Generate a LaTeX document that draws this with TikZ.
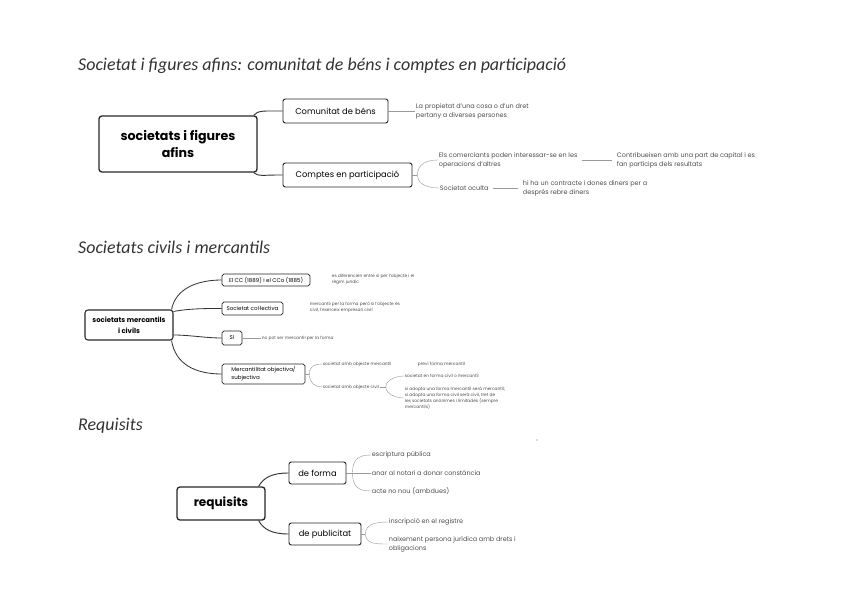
\documentclass[tikz,border=0pt]{standalone}
\usepackage{fontspec}
\setmainfont{Poppins}
\newfontfamily\titolfont{Carlito}
\usetikzlibrary{calc,positioning}
\newcommand{\px}{0.3mm}
\tikzset{
  titol/.style={anchor=base west, inner sep=0pt, text=black!80, font=\titolfont\itshape\fontsize{15.3}{18}\selectfont},
  arrel/.style={draw=black!85, line width=1.1pt, rounded corners=2.5pt, align=center, inner sep=0pt, font=\bfseries\fontsize{10.8}{14.5}\selectfont},
  branca/.style={draw=black!85, line width=0.8pt, rounded corners=2pt, inner sep=0pt, font=\fontsize{7.1}{9}\selectfont},
  petita/.style={line width=0.6pt, rounded corners=1.5pt, align=left, font=\fontsize{4.7}{7}\selectfont},
  nota/.style={anchor=west, inner sep=0.6pt, align=left, text=black!70, font=\fontsize{5.5}{7.7}\selectfont},
  minuscula/.style={font=\fontsize{3.7}{5.2}\selectfont},
  enllac/.style={draw=black!80, line width=0.8pt},
  guia/.style={draw=black!40, line width=0.35pt},
}

\begin{document}
\begin{tikzpicture}[x=\px, y=\px]
\useasboundingbox (0,0) rectangle (848,-599);

%====================================================
% SOCIETATS I FIGURES AFINS
%====================================================
\node[titol] (titol1) at (78,-71) {Societat i figures afins: comunitat de béns i comptes en participació};
\node[arrel, minimum width=158*\px, minimum height=56*\px] (afins) at (178,-144) {societats i figures\\afins};
\node[branca, minimum width=105*\px, minimum height=24*\px] (comunitat) at (335.5,-111) {Comunitat de béns};
\node[branca, minimum width=129*\px, minimum height=24*\px] (comptes) at (347.5,-175) {Comptes en participació};
\draw[enllac] ($(afins.north east)+(-4,0)$) .. controls +(4,5) and +(-12,0) .. ($(comunitat.west)+(-6,0)$) -- (comunitat.west);
\draw[enllac] ($(afins.south east)+(-4,0)$) .. controls +(4,-4) and +(-12,0) .. ($(comptes.west)+(-6,0)$) -- (comptes.west);

\node[nota] (propietat) at (415,-111) {La propietat d'una cosa o d'un dret\\pertany a diverses persones};
\draw[guia] (comunitat.east) -- (propietat.west);

\node[nota] (comerciants) at (438,-160) {Els comerciants poden interessar-se en les\\operacions d'altres};
\node[nota] (oculta) at (439,-188) {Societat oculta};
\node[nota] (contribueixen) at (616,-160) {Contribueixen amb una part de capital i es\\fan partícips dels resultats};
\node[nota] (contracte) at (522,-188) {hi ha un contracte i dones diners per a\\després rebre diners};
\draw[guia] (comptes.east) -- ++(5,0) coordinate (comptes-b);
\draw[guia] (comptes-b) .. controls +(0,12) and +(-10,0) .. (comerciants.west);
\draw[guia] (comptes-b) .. controls +(0,-10) and +(-10,0) .. (oculta.west);
\draw[guia] ($(comerciants.east)+(4,0)$) -- ($(contribueixen.west)+(-4,0)$);
\draw[guia] ($(oculta.east)+(4,0)$) -- ($(contracte.west)+(-4,0)$);

%====================================================
% SOCIETATS CIVILS I MERCANTILS
%====================================================
\node[titol] (titol2) at (78,-253) {Societats civils i mercantils};
\node[arrel, line width=0.9pt, font=\bfseries\fontsize{5.9}{9.5}\selectfont, minimum width=88*\px, minimum height=30*\px] (mercantils) at (129,-325) {societats mercantils\\i civils};
\node[branca, petita, minimum width=88*\px, minimum height=12*\px] (codis) at (266,-280) {El CC (1889) i el CCo (1885)};
\node[branca, petita, minimum width=61*\px, minimum height=13*\px] (collectiva) at (252.5,-308.5) {Societat col·lectiva};
\node[branca, petita, minimum width=20*\px, minimum height=14*\px] (si) at (232,-338) {SI};
\node[branca, petita, minimum width=83*\px, minimum height=20*\px] (mercantilitat) at (263.5,-374) {Mercantilitat objectiva/\\subjectiva};
\draw[enllac, line width=0.7pt] ($(mercantils.north east)+(-2,0)$) .. controls +(4,20) and +(-26,0) .. (codis.west);
\draw[enllac, line width=0.7pt] ($(mercantils.north east)+(0,-2)$) .. controls +(16,3) and +(-16,0) .. (collectiva.west);
\draw[enllac, line width=0.7pt] ($(mercantils.east)+(0,-10)$) .. controls +(16,0) and +(-16,0) .. (si.west);
\draw[enllac, line width=0.7pt] ($(mercantils.south east)+(-2,0)$) .. controls +(4,-24) and +(-26,0) .. (mercantilitat.west);

\node[nota, minuscula] (regim) at (331,-279) {es diferencien entre si per l'objecte i el\\règim jurídic};
\node[nota, minuscula] (formanota) at (309,-307) {mercantil per la forma però si l'objecte és\\civil, l'exerceix empresari civil};
\node[nota, minuscula] (noforma) at (261,-338) {no pot ser mercantil per la forma};
\draw[guia] (si.east) -- (noforma.west);

\node[nota, minuscula] (objmerc) at (322,-364) {societat amb objecte mercantil};
\node[nota, minuscula] (previ) at (417,-364) {previ forma mercantil};
\node[nota, minuscula] (objcivil) at (322,-387) {societat amb objecte civil};
\node[nota, minuscula] (formaciv) at (404,-376) {societat en forma civil o mercantil};
\node[nota, minuscula] (adopta) at (404,-398) {si adopta una forma mercantil serà mercantil;\\si adopta una forma civil serà civil, tret de\\les societats anònimes i limitades (sempre\\mercantils)};
\draw[guia] (mercantilitat.east) -- ++(4,0) coordinate (merc-b);
\draw[guia] (merc-b) .. controls +(0,8) and +(-7,0) .. (objmerc.west);
\draw[guia] (merc-b) .. controls +(0,-9) and +(-7,0) .. (objcivil.west);
\draw[guia] (objcivil.east) -- ++(6,0) coordinate (civ-b);
\draw[guia] (civ-b) .. controls +(0,8) and +(-6,0) .. (formaciv.west);
\draw[guia] (civ-b) .. controls +(0,-8) and +(-6,0) .. (adopta.west);

%====================================================
% REQUISITS
%====================================================
\node[titol] (titol3) at (78,-430) {Requisits};
\node[arrel, font=\bfseries\fontsize{10.3}{12}\selectfont, minimum width=88*\px, minimum height=33*\px] (requisits) at (221,-503.5) {requisits};
\node[branca, minimum width=57*\px, minimum height=22*\px] (deforma) at (317.5,-473) {de forma};
\node[branca, minimum width=72*\px, minimum height=22*\px] (publicitat) at (325,-534) {de publicitat};
\draw[enllac] ($(requisits.north east)+(-7,0)$) .. controls +(5,9) and +(-16,0) .. (deforma.west);
\draw[enllac] ($(requisits.south east)+(-7,0)$) .. controls +(5,-9) and +(-16,0) .. (publicitat.west);

\node[nota] (escriptura) at (371,-455) {escriptura pública};
\node[nota] (notari) at (371,-473) {anar al notari a donar constància};
\node[nota] (ambdues) at (371,-491) {acte no nou (ambdues)};
\draw[guia] (deforma.east) -- ++(6,0) coordinate (forma-b);
\draw[guia] (forma-b) .. controls +(0,14) and +(-12,0) .. (escriptura.west);
\draw[guia] (forma-b) -- (notari.west);
\draw[guia] (forma-b) .. controls +(0,-14) and +(-12,0) .. (ambdues.west);

\node[nota] (inscripcio) at (388,-522) {inscripció en el registre};
\node[nota] (naixement) at (388,-544) {naixement persona jurídica amb drets i\\obligacions};
\draw[guia] (publicitat.east) -- ++(4,0) coordinate (publi-b);
\draw[guia] (publi-b) .. controls +(0,10) and +(-12,0) .. (inscripcio.west);
\draw[guia] (publi-b) .. controls +(0,-10) and +(-12,0) .. (naixement.west);

\fill[black!60] (537,-440) circle (0.7);
\end{tikzpicture}
\end{document}
